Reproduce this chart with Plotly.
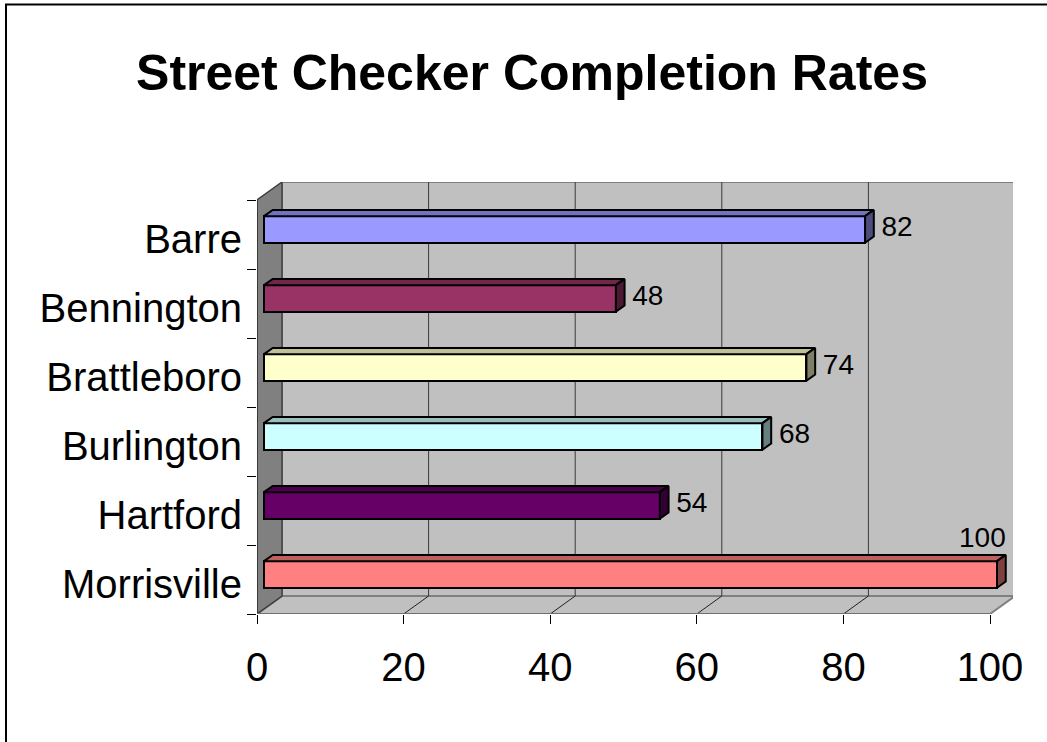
import plotly.graph_objects as go

# ---- data ----
towns = ["Barre", "Bennington", "Brattleboro", "Burlington", "Hartford", "Morrisville"]
rates = [82, 48, 74, 68, 54, 100]
front_colors = ["#9999FF", "#993366", "#FFFFCC", "#CCFFFF", "#660066", "#FF8080"]
x_ticks = [0, 20, 40, 60, 80, 100]

# ---- layout geometry (pixels) ----
W, H = 1047, 742
ML, MR, MT, MB = 257, 34, 182, 128
SX = 7.33          # px per percent
SY = 69.0          # px per category
PLOT_W = W - ML - MR
PLOT_H = H - MT - MB
XMAX = PLOT_W / SX
Y_BOTTOM = 5.5
Y_TOP = Y_BOTTOM - PLOT_H / SY

# 3-D depth of the walls, in data units
DX = 25 / SX
DY = -18 / SY
F_FRONT = 0.28     # depth where bar front faces sit
F_BAR = 0.35       # bar depth as fraction of wall depth
BAR_W = 0.385


def shade(hex_color, k):
    h = hex_color.lstrip("#")
    r, g, b = (int(h[i:i + 2], 16) for i in (0, 2, 4))
    return "rgb({},{},{})".format(int(r * k), int(g * k), int(b * k))


fig = go.Figure()

shapes = []
# back wall
shapes.append(dict(type="rect", xref="x", yref="y", layer="below",
                   x0=DX, x1=100 + DX, y0=Y_TOP, y1=Y_BOTTOM + DY,
                   fillcolor="#C0C0C0", line=dict(color="#808080", width=2)))
# floor
shapes.append(dict(type="path", xref="x", yref="y", layer="below",
                   path="M 0 {b} L {dx} {bb} L {rx} {bb} L 100 {b} Z".format(
                       b=Y_BOTTOM, dx=DX, bb=Y_BOTTOM + DY, rx=100 + DX),
                   fillcolor="#C0C0C0", line=dict(color="#808080", width=2)))
# left wall
shapes.append(dict(type="path", xref="x", yref="y", layer="below",
                   path="M 0 {t} L {dx} {tt} L {dx} {bb} L 0 {b} Z".format(
                       t=-0.5, tt=-0.5 + DY, dx=DX, bb=Y_BOTTOM + DY, b=Y_BOTTOM),
                   fillcolor="#808080", line=dict(color="#404040", width=1.5)))
# gridlines on the back wall and across the floor
for v in x_ticks[1:-1]:
    shapes.append(dict(type="line", xref="x", yref="y", layer="below",
                       x0=v + DX, x1=v + DX, y0=Y_TOP, y1=Y_BOTTOM + DY,
                       line=dict(color="#3A3A3A", width=1)))
    shapes.append(dict(type="line", xref="x", yref="y", layer="below",
                       x0=v, x1=v + DX, y0=Y_BOTTOM, y1=Y_BOTTOM + DY,
                       line=dict(color="#202020", width=1)))
# front edges of left wall and floor
shapes.append(dict(type="line", xref="x", yref="y", layer="below",
                   x0=0, x1=0, y0=-0.5, y1=Y_BOTTOM,
                   line=dict(color="#303030", width=1.5)))
shapes.append(dict(type="line", xref="x", yref="y", layer="below",
                   x0=0, x1=100, y0=Y_BOTTOM, y1=Y_BOTTOM,
                   line=dict(color="#707070", width=2)))
# chart frame
shapes.append(dict(type="rect", xref="paper", yref="paper",
                   x0=(6 - ML) / PLOT_W, x1=1.5,
                   y0=-0.8, y1=(MT + PLOT_H - 4.5) / PLOT_H,
                   line=dict(color="black", width=2), fillcolor="rgba(0,0,0,0)"))

base = F_FRONT * DX
ddx, ddy = F_BAR * DX, F_BAR * DY
y_pos = [i + F_FRONT * DY for i in range(len(towns))]

# top and side faces of each bar
for v, yc, col in zip(rates, y_pos, front_colors):
    yt, yb = yc - BAR_W / 2, yc + BAR_W / 2
    x_end = base + v
    fig.add_trace(go.Scatter(
        x=[base, x_end, x_end + ddx, base + ddx, base],
        y=[yt, yt, yt + ddy, yt + ddy, yt],
        mode="lines", fill="toself", fillcolor=shade(col, 0.75),
        line=dict(color="black", width=2), hoverinfo="skip", showlegend=False))
    fig.add_trace(go.Scatter(
        x=[x_end, x_end, x_end + ddx, x_end + ddx, x_end],
        y=[yt, yb, yb + ddy, yt + ddy, yt],
        mode="lines", fill="toself", fillcolor=shade(col, 0.5),
        line=dict(color="black", width=2), hoverinfo="skip", showlegend=False))

# front faces
fig.add_trace(go.Bar(
    y=y_pos, x=rates, base=[base] * len(rates), orientation="h", width=BAR_W,
    marker=dict(color=front_colors, line=dict(color="black", width=2)),
    showlegend=False, hovertext=towns))

# value labels: beside the bar, or above it when there is no room
LABEL_FS = 28
lab_x, lab_y, lab_pos = [], [], []
for v, yc in zip(rates, y_pos):
    txt_w = len(str(v)) * 0.556 * LABEL_FS / SX
    right = base + v + ddx
    if right + 1.1 + txt_w > XMAX:
        lab_x.append(right)
        lab_y.append(yc - BAR_W / 2 + ddy - 0.02)
        lab_pos.append("top left")
    else:
        lab_x.append(right + 1.05)
        lab_y.append(yc)
        lab_pos.append("middle right")
fig.add_trace(go.Scatter(
    x=lab_x, y=lab_y, mode="text", text=[str(v) for v in rates],
    textposition=lab_pos, cliponaxis=False,
    textfont=dict(family="Liberation Sans, Arial", size=LABEL_FS, color="black"),
    hoverinfo="skip", showlegend=False))

fig.update_layout(
    width=W, height=H,
    margin=dict(l=ML, r=MR, t=MT, b=MB, pad=0),
    paper_bgcolor="white", plot_bgcolor="rgba(0,0,0,0)",
    font=dict(family="Liberation Sans, Arial", color="black"),
    title=dict(text="<b>Street Checker Completion Rates</b>",
               font=dict(size=50, color="black", family="Liberation Sans, Arial"),
               xref="container", yref="container",
               x=532 / W, xanchor="center", y=1 - 72 / H, yanchor="middle"),
    shapes=shapes,
    bargap=0,
)

fig.update_xaxes(
    range=[0, XMAX], tickvals=x_ticks, ticktext=[str(t) for t in x_ticks],
    ticks="outside", ticklen=9, tickwidth=1, tickcolor="black",
    tickfont=dict(size=40), showgrid=False, zeroline=False, showline=False,
    ticklabelstandoff=9, fixedrange=True)

fig.update_yaxes(
    range=[Y_BOTTOM, Y_TOP], tickvals=[i + 0.065 for i in range(len(towns))],
    ticktext=towns, ticks="", tickfont=dict(size=40),
    minor=dict(tickvals=[i - 0.5 for i in range(len(towns) + 1)],
               ticks="outside", ticklen=9, tickwidth=1, tickcolor="black",
               showgrid=False),
    showgrid=False, zeroline=False, showline=False,
    ticklabelstandoff=14, fixedrange=True)

fig.write_html("out.html")
